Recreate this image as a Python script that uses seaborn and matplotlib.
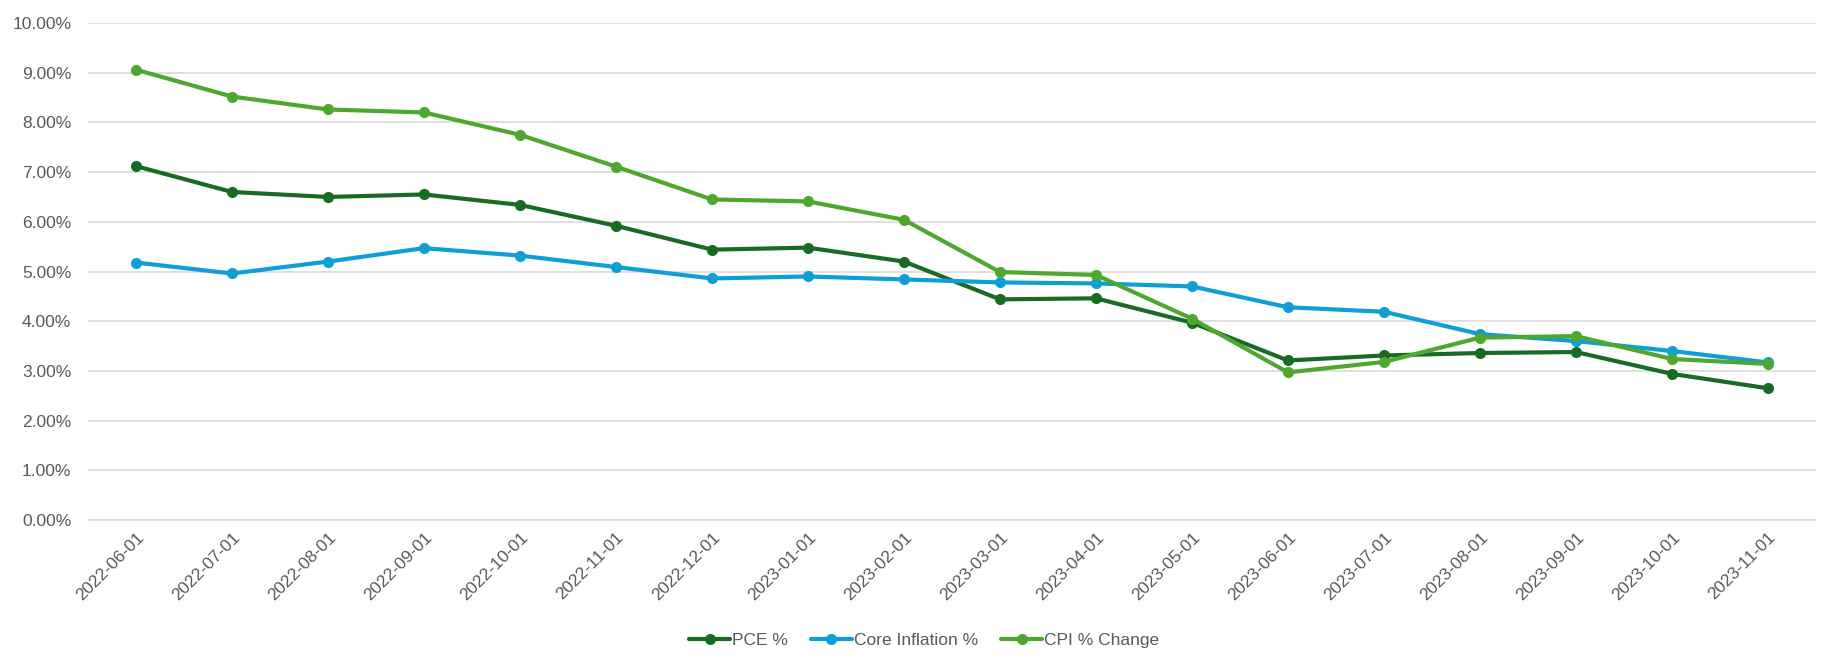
import pandas as pd
import matplotlib.pyplot as plt
import seaborn as sns
from matplotlib.ticker import PercentFormatter, FixedLocator

# Monthly values (percent)
dates = ['2022-06-01', '2022-07-01', '2022-08-01', '2022-09-01', '2022-10-01', '2022-11-01',
         '2022-12-01', '2023-01-01', '2023-02-01', '2023-03-01', '2023-04-01', '2023-05-01',
         '2023-06-01', '2023-07-01', '2023-08-01', '2023-09-01', '2023-10-01', '2023-11-01']
pce = [7.12, 6.60, 6.50, 6.55, 6.34, 5.92, 5.44, 5.48, 5.20, 4.44, 4.46, 3.97,
       3.21, 3.31, 3.36, 3.38, 2.94, 2.65]
core = [5.18, 4.96, 5.20, 5.47, 5.32, 5.09, 4.86, 4.90, 4.84, 4.78, 4.76, 4.70,
        4.28, 4.19, 3.74, 3.60, 3.40, 3.17]
cpi = [9.06, 8.52, 8.26, 8.20, 7.75, 7.11, 6.45, 6.41, 6.04, 4.99, 4.93, 4.05,
       2.97, 3.18, 3.67, 3.70, 3.24, 3.14]
series_names = ['PCE %', 'Core Inflation %', 'CPI % Change']
colors = ['#196B24', '#0F9ED5', '#4EA72E']

df = pd.DataFrame({'date': dates, 'PCE %': pce, 'Core Inflation %': core, 'CPI % Change': cpi})
df['idx'] = range(len(dates))
long_df = df.melt(id_vars=['date', 'idx'], value_vars=series_names,
                  var_name='series', value_name='value')

sns.set_style('white')
plt.rcParams['font.family'] = ['Liberation Sans', 'DejaVu Sans']

fig = plt.figure(figsize=(18.42, 6.71), dpi=100)
ax = fig.add_axes([88 / 1842, 1 - 520 / 671, (1816 - 88) / 1842, (520 - 23) / 671])

sns.lineplot(data=long_df, x='idx', y='value', hue='series', hue_order=series_names,
             palette=colors, marker='o', markersize=8, markeredgewidth=0,
             linewidth=3, ax=ax, legend=True)

grey = '#595959'
ax.set_xlim(-0.5, len(dates) - 0.5)
ax.set_ylim(0, 10)
ax.set_yticks(range(0, 11))
ax.yaxis.set_major_formatter(PercentFormatter(decimals=2))
ax.grid(axis='y', color='#D9D9D9', linewidth=1.2)
ax.set_axisbelow(True)

ax.set_xticks(range(len(dates)))
ax.set_xticklabels(dates, rotation=45, ha='right', rotation_mode='anchor')
ax.xaxis.set_minor_locator(FixedLocator([i - 0.5 for i in range(len(dates) + 1)]))
ax.tick_params(axis='x', which='major', length=0, pad=7, labelsize=12.5, labelcolor=grey)
ax.tick_params(axis='x', which='minor', length=5, width=1.2, color='#D9D9D9')
ax.tick_params(axis='y', length=0, pad=12, labelsize=12.5, labelcolor=grey)

for side in ['top', 'right', 'left']:
    ax.spines[side].set_visible(False)
ax.spines['bottom'].set_color('#D9D9D9')
ax.spines['bottom'].set_linewidth(1.2)

ax.set_xlabel('')
ax.set_ylabel('')

handles, labels = ax.get_legend_handles_labels()
ax.legend(handles, labels, loc='center', bbox_to_anchor=(924 / 1842, 1 - 640 / 671),
          bbox_transform=fig.transFigure, ncol=3, frameon=False, fontsize=12.5,
          labelcolor=grey, handlelength=2.4, handletextpad=0.1, columnspacing=1.3)

fig.savefig('out.png', dpi=100, facecolor='white')
